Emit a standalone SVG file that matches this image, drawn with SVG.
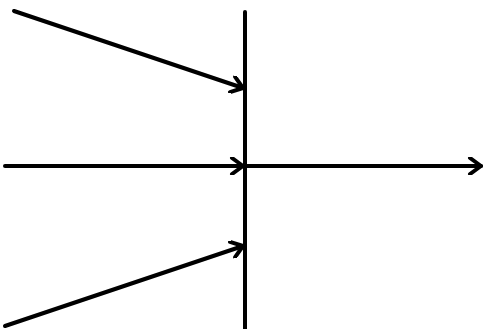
<svg xmlns="http://www.w3.org/2000/svg" width="486" height="329" viewBox="0 0 486 329">
<defs>
<style>
.ln{stroke:#000;stroke-width:4;fill:none;stroke-linecap:round}
</style>
<marker id="ah" viewBox="-14 -9 16 18" markerWidth="16" markerHeight="18" refX="0" refY="0" orient="auto" markerUnits="userSpaceOnUse">
<path d="M-11,-8 L0,0 L-11,8" stroke="#000" stroke-width="4" fill="none" stroke-linecap="round" stroke-linejoin="round"/>
</marker>
</defs>
<rect width="486" height="329" fill="#fff"/>
<g id="barrier">
<line class="ln" x1="245" y1="12" x2="245" y2="329"/>
</g>
<g id="connectors">
<line class="ln" x1="14" y1="11" x2="243" y2="88" marker-end="url(#ah)"/>
<line class="ln" x1="5" y1="166" x2="243" y2="166" marker-end="url(#ah)"/>
<line class="ln" x1="245" y1="166" x2="481" y2="166" marker-end="url(#ah)"/>
<line class="ln" x1="5" y1="326" x2="243" y2="246" marker-end="url(#ah)"/>
</g>
</svg>
